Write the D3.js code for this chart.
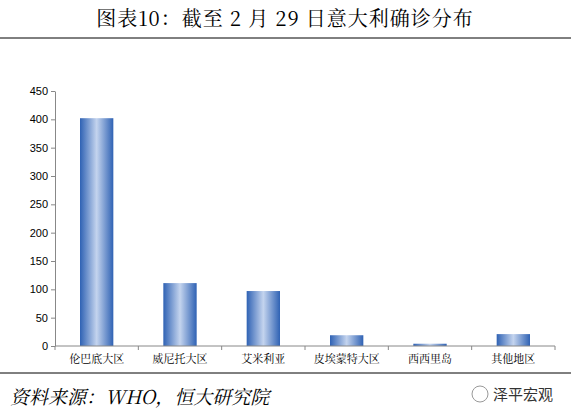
<!DOCTYPE html>
<html><head><meta charset="utf-8">
<script src="https://cdn.jsdelivr.net/npm/d3@7"></script>
<style>body{margin:0;background:#fff}</style>
</head><body>
<svg id="c" width="571" height="416"></svg>
<script>
const categories = ["伦巴底大区","威尼托大区","艾米利亚","皮埃蒙特大区","西西里岛","其他地区"];
const cases = [402, 111, 97, 19, 4, 21];
const yTicks = [0,50,100,150,200,250,300,350,400,450];

const svg = d3.select("#c");
const serif = "'Noto Serif CJK SC','Noto Sans CJK SC',serif";

svg.append("text").attr("x", 285).attr("y", 26).attr("text-anchor","middle")
  .attr("font-family", serif).attr("font-size", 20).attr("letter-spacing", 1)
  .text("图表10：截至 2 月 29 日意大利确诊分布");
svg.append("line").attr("x1",0).attr("x2",571).attr("y1",38).attr("y2",38).attr("stroke","#000").attr("stroke-width",1);

const defs = svg.append("defs");
const g = defs.append("linearGradient").attr("id","bar").attr("x1","0").attr("x2","1");
g.append("stop").attr("offset","0").attr("stop-color","#2f62b4");
g.append("stop").attr("offset","0.5").attr("stop-color","#c4d4ee");
g.append("stop").attr("offset","1").attr("stop-color","#2f62b4");

const x = d3.scaleBand().domain(categories).range([55,555]).paddingInner(0.6).paddingOuter(0.3);
const y = d3.scaleLinear().domain([0,450]).range([346,91]);

svg.selectAll("rect.b").data(cases).join("rect").attr("class","b")
  .attr("x",(d,i)=>x(categories[i])).attr("width",x.bandwidth())
  .attr("y",d=>y(d)).attr("height",d=>y(0)-y(d)).attr("fill","url(#bar)");

const ya = svg.append("g").attr("transform","translate(55,0)")
  .call(d3.axisLeft(y).tickValues(yTicks).tickSize(4).tickSizeOuter(0));
const xa = svg.append("g").attr("transform","translate(0,346)")
  .call(d3.axisBottom(x).tickSize(0).tickPadding(9));
xa.select(".domain").attr("d","M55,0H555");
[ya, xa].forEach(a => {
  a.selectAll("text").attr("font-family",serif).attr("font-size",11).attr("fill","#000");
  a.selectAll("path,line").attr("stroke","#888");
});
ya.selectAll("text").attr("font-family","'Liberation Sans',sans-serif");
xa.append("g").selectAll("line").data(d3.range(categories.length+1)).join("line")
  .attr("x1",i=>55+i*500/6).attr("x2",i=>55+i*500/6).attr("y1",0).attr("y2",4).attr("stroke","#888");

svg.append("line").attr("x1",0).attr("x2",571).attr("y1",373).attr("y2",373).attr("stroke","#000");
svg.append("text").attr("x",10).attr("y",404).attr("font-family",serif).attr("font-style","italic")
  .attr("font-size",19).text("资料来源：WHO，恒大研究院");
svg.append("circle").attr("cx",480).attr("cy",394).attr("r",8).attr("fill","none").attr("stroke","#999");
svg.append("text").attr("x",493).attr("y",400).attr("font-family","'Noto Sans CJK SC',sans-serif")
  .attr("font-size",15).attr("fill","#333").text("泽平宏观");
</script>
</body></html>
